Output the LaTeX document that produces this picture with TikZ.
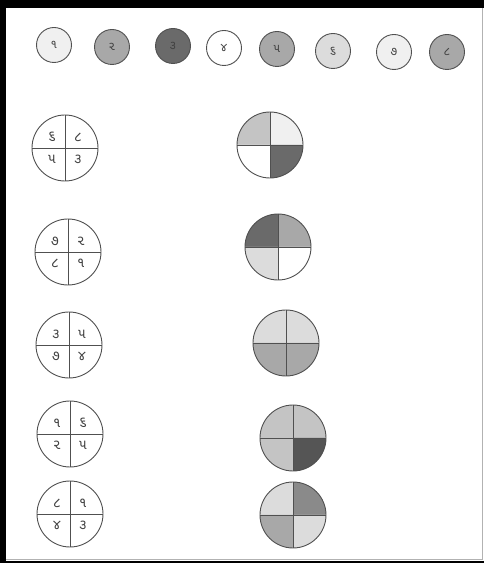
\documentclass[tikz,border=0pt]{standalone}
\usepackage{fontspec}
\newfontfamily\gujfont[Script=Gujarati]{Noto Sans Gujarati UI}
\usetikzlibrary{positioning, calc, backgrounds}
\definecolor{pencil}{HTML}{505050}
\definecolor{shadeA}{HTML}{F0F0F0}
\definecolor{shadeB}{HTML}{DCDCDC}
\definecolor{shadeC}{HTML}{C4C4C4}
\definecolor{shadeD}{HTML}{A8A8A8}
\definecolor{shadeE}{HTML}{8A8A8A}
\definecolor{shadeF}{HTML}{6A6A6A}
\definecolor{shadeG}{HTML}{555555}

\tikzset{
  coin/.style={circle, draw=pencil, line width=0.9pt, inner sep=0pt,
    minimum size=35pt, font=\gujfont\fontsize{12}{12}\selectfont, text=black!75},
  wheel/.style={circle, draw=pencil, line width=0.9pt, inner sep=0pt,
    minimum size=66pt},
  digit/.style={inner sep=0pt, font=\gujfont\fontsize{14}{14}\selectfont, text=black!75},
  spoke/.style={draw=pencil, line width=0.9pt}
}

\begin{document}
\begin{tikzpicture}[x=1pt, y=1pt]
  \useasboundingbox (0,0) rectangle (484,563);

  % Sheet and frame
  \begin{scope}[on background layer]
    \fill[white] (0,0) rectangle (484,563);
    \fill[black] (0,0) rectangle (6,563);
    \fill[black] (0,555) rectangle (484,563);
    \fill[black] (0,0) rectangle (484,2);
    \draw[gray!60, line width=0.8pt] (6,4) -- (482,4) -- (482,555);
  \end{scope}

  % Legend row of shaded coins
  \foreach \d/\x/\y/\c [count=\i] in {૧/54/518/shadeA, ૨/112/516/shadeD, ૩/173/517/shadeF,
      ૪/224/515/white, ૫/277/514/shadeD, ૬/333/512/shadeB, ૭/394/511/shadeA, ૮/447/511/shadeD}
    \node[coin, fill=\c] (t\i) at (\x,\y) {\d};

  % Numbered wheels
  \foreach \x/\y/\tl/\tr/\bl/\br [count=\i] in {65/415/૬/૮/૫/૩, 68/311/૭/૨/૮/૧,
      69/218/૩/૫/૭/૪, 70/129/૧/૬/૨/૫, 70/49/૮/૧/૪/૩} {
    \node[wheel] (g\i) at (\x,\y) {};
    \draw[spoke] (g\i.north) -- (g\i.south);
    \draw[spoke] (g\i.west) -- (g\i.east);
    \node[digit] (g\i tl) at ([shift={(-13,11)}]g\i.center) {\tl};
    \node[digit] (g\i tr) at ([shift={(13,11)}]g\i.center) {\tr};
    \node[digit] (g\i bl) at ([shift={(-13,-11)}]g\i.center) {\bl};
    \node[digit] (g\i br) at ([shift={(13,-11)}]g\i.center) {\br};
  }

  % Shaded wheels
  \foreach \x/\y/\ctr/\ctl/\cbl/\cbr [count=\i] in {270/418/shadeA/shadeC/white/shadeF,
      278/316/shadeD/shadeF/shadeB/white, 286/220/shadeB/shadeB/shadeD/shadeD,
      293/125/shadeC/shadeC/shadeC/shadeG, 293/48/shadeE/shadeB/shadeD/shadeB} {
    \node[wheel] (s\i) at (\x,\y) {};
    \begin{scope}[on background layer]
      \foreach \a/\c in {0/\ctr, 90/\ctl, 180/\cbl, 270/\cbr}
        \fill[\c] (s\i.center) -- ++(\a:33) arc[start angle=\a, delta angle=90, radius=33] -- cycle;
    \end{scope}
    \draw[spoke] (s\i.north) -- (s\i.south);
    \draw[spoke] (s\i.west) -- (s\i.east);
  }
\end{tikzpicture}
\end{document}
